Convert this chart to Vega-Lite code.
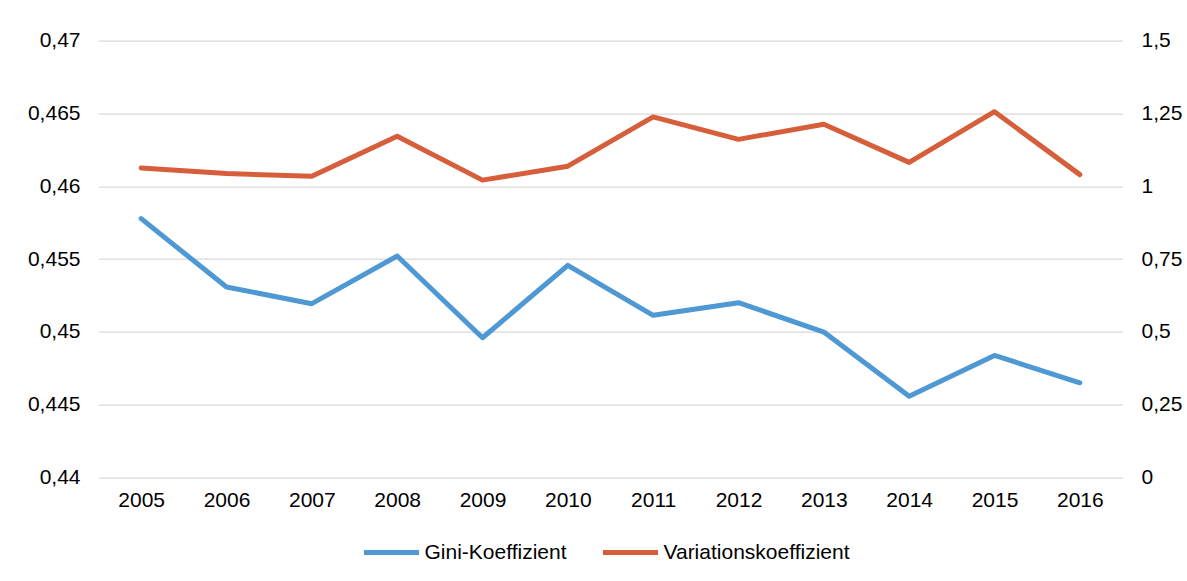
{
  "$schema": "https://vega.github.io/schema/vega-lite/v6.json",
  "autosize": "none",
  "width": 1024,
  "height": 437,
  "padding": {"left": 98.5, "top": 40.6, "right": 64.5, "bottom": 103.4},
  "background": "#ffffff",
  "config": {
    "locale": {"number": {"decimal": ",", "thousands": ".", "grouping": [3], "currency": ["", " €"]}},
    "view": {"stroke": null},
    "font": "Liberation Sans"
  },
  "data": {
    "values": [
      {"year": "2005", "series": "Gini-Koeffizient", "value": 0.45778},
      {"year": "2006", "series": "Gini-Koeffizient", "value": 0.45308},
      {"year": "2007", "series": "Gini-Koeffizient", "value": 0.45194},
      {"year": "2008", "series": "Gini-Koeffizient", "value": 0.45521},
      {"year": "2009", "series": "Gini-Koeffizient", "value": 0.4496},
      {"year": "2010", "series": "Gini-Koeffizient", "value": 0.45457},
      {"year": "2011", "series": "Gini-Koeffizient", "value": 0.45114},
      {"year": "2012", "series": "Gini-Koeffizient", "value": 0.45201},
      {"year": "2013", "series": "Gini-Koeffizient", "value": 0.44999},
      {"year": "2014", "series": "Gini-Koeffizient", "value": 0.44559},
      {"year": "2015", "series": "Gini-Koeffizient", "value": 0.44839},
      {"year": "2016", "series": "Gini-Koeffizient", "value": 0.44651},
      {"year": "2005", "series": "Variationskoeffizient", "value": 1.063},
      {"year": "2006", "series": "Variationskoeffizient", "value": 1.044},
      {"year": "2007", "series": "Variationskoeffizient", "value": 1.034},
      {"year": "2008", "series": "Variationskoeffizient", "value": 1.172},
      {"year": "2009", "series": "Variationskoeffizient", "value": 1.021},
      {"year": "2010", "series": "Variationskoeffizient", "value": 1.069},
      {"year": "2011", "series": "Variationskoeffizient", "value": 1.238},
      {"year": "2012", "series": "Variationskoeffizient", "value": 1.161},
      {"year": "2013", "series": "Variationskoeffizient", "value": 1.213},
      {"year": "2014", "series": "Variationskoeffizient", "value": 1.082},
      {"year": "2015", "series": "Variationskoeffizient", "value": 1.256},
      {"year": "2016", "series": "Variationskoeffizient", "value": 1.04}
    ]
  },
  "encoding": {
    "x": {
      "field": "year",
      "type": "ordinal",
      "scale": {"padding": 0.5},
      "axis": {
        "title": null,
        "labelAngle": 0,
        "labelFontSize": 21,
        "labelColor": "#000000",
        "labelPadding": 12,
        "ticks": false,
        "domain": false,
        "grid": false
      }
    },
    "color": {
      "field": "series",
      "type": "nominal",
      "scale": {"domain": ["Gini-Koeffizient", "Variationskoeffizient"], "range": ["#4E98D3", "#D65E3B"]},
      "legend": {
        "orient": "none",
        "legendX": 263,
        "legendY": 482,
        "direction": "horizontal",
        "title": null,
        "symbolType": "stroke",
        "symbolSize": 3025,
        "symbolStrokeWidth": 5,
        "labelFontSize": 21,
        "labelColor": "#000000",
        "labelOffset": 3,
        "labelLimit": 400,
        "columnPadding": 25
      }
    }
  },
  "layer": [
    {
      "transform": [{"filter": "datum.series === 'Gini-Koeffizient'"}],
      "mark": {"type": "line", "strokeWidth": 5, "strokeCap": "round", "strokeJoin": "round"},
      "encoding": {
        "y": {
          "field": "value",
          "type": "quantitative",
          "scale": {"domain": [0.44, 0.47], "zero": false, "nice": false},
          "axis": {
            "title": null,
            "orient": "left",
            "values": [0.44, 0.445, 0.45, 0.455, 0.46, 0.465, 0.47],
            "format": ".4~g",
            "labelFontSize": 21,
            "labelColor": "#000000",
            "labelPadding": 18.5,
            "ticks": false,
            "domain": false,
            "grid": true,
            "gridColor": "#D9D9D9",
            "gridWidth": 1.4
          }
        }
      }
    },
    {
      "transform": [{"filter": "datum.series === 'Variationskoeffizient'"}],
      "mark": {"type": "line", "strokeWidth": 5, "strokeCap": "round", "strokeJoin": "round"},
      "encoding": {
        "y": {
          "field": "value",
          "type": "quantitative",
          "scale": {"domain": [0, 1.5], "zero": true, "nice": false},
          "axis": {
            "title": null,
            "orient": "right",
            "values": [0, 0.25, 0.5, 0.75, 1, 1.25, 1.5],
            "format": ".4~g",
            "labelFontSize": 21,
            "labelColor": "#000000",
            "labelPadding": 18.5,
            "ticks": false,
            "domain": false,
            "grid": false
          }
        }
      }
    }
  ],
  "resolve": {"scale": {"y": "independent"}}
}
